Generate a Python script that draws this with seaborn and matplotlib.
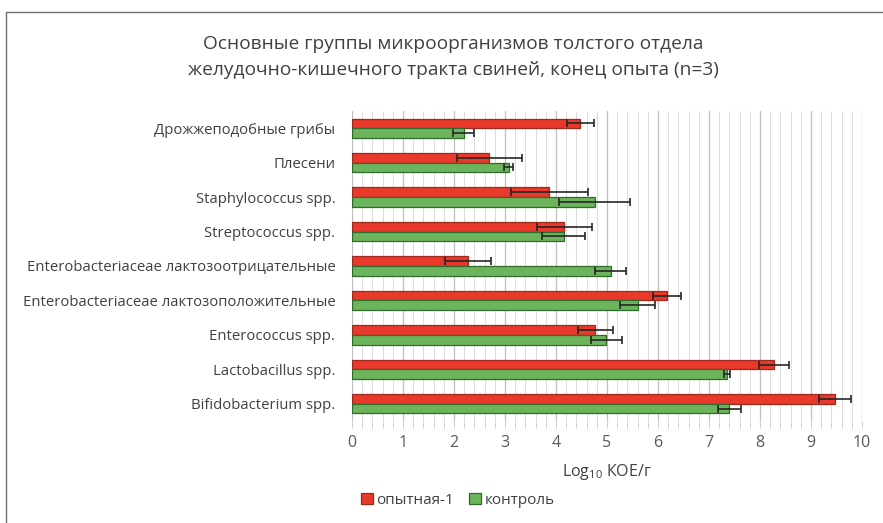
import matplotlib
matplotlib.use("Agg")
import matplotlib.pyplot as plt
import matplotlib.patches as mpatches
from matplotlib.ticker import MultipleLocator
import numpy as np
import pandas as pd
import seaborn as sns

categories = [
    "Дрожжеподобные грибы",
    "Плесени",
    "Staphylococcus spp.",
    "Streptococcus spp.",
    "Enterobacteriaceae лактозоотрицательные",
    "Enterobacteriaceae лактозоположительные",
    "Enterococcus spp.",
    "Lactobacillus spp.",
    "Bifidobacterium spp.",
]
series_names = ["опытная-1", "контроль"]
exp_values = [4.48, 2.69, 3.87, 4.16, 2.27, 6.18, 4.77, 8.27, 9.47]
exp_errors = [0.26, 0.64, 0.76, 0.54, 0.45, 0.27, 0.34, 0.29, 0.32]
ctl_values = [2.19, 3.07, 4.76, 4.15, 5.07, 5.60, 4.99, 7.36, 7.40]
ctl_errors = [0.20, 0.09, 0.70, 0.42, 0.31, 0.35, 0.30, 0.06, 0.23]
x_ticks = [0, 1, 2, 3, 4, 5, 6, 7, 8, 9, 10]
title_text = "Основные группы микроорганизмов толстого отдела\nжелудочно-кишечного тракта свиней, конец опыта (n=3)"
xlabel_text = r"Log$_{\mathregular{10}}$ КОЕ/г"

red = "#E8392A"
green = "#6DB55C"
red_edge = "#9E2A1E"
green_edge = "#2F6B2A"

sns.set_theme(style="white")
plt.rcParams["font.family"] = ["Open Sans", "DejaVu Sans"]
plt.rcParams["mathtext.fontset"] = "custom"
plt.rcParams["mathtext.rm"] = "Open Sans"

df = pd.DataFrame({
    "cat": categories * 2,
    "grp": [series_names[0]] * len(categories) + [series_names[1]] * len(categories),
    "val": exp_values + ctl_values,
    "err": exp_errors + ctl_errors,
})

fig = plt.figure(figsize=(8.83, 5.23), dpi=100)
ax = fig.add_axes([352 / 883, 1 - 421 / 523, 510 / 883, 310 / 523])

sns.barplot(data=df, y="cat", x="val", hue="grp", order=categories,
            hue_order=series_names, palette=[red, green], orient="h",
            width=0.56, errorbar=None, ax=ax, legend=False, saturation=1,
            edgecolor="none", linewidth=0)

# style bars & add error bars based on library-drawn patches
edges = [red_edge, green_edge]
errs = [exp_errors, ctl_errors]
bar_containers = list(ax.containers)
for h, cont in enumerate(bar_containers):
    ys, xs = [], []
    for bar in cont:
        bar.set_edgecolor(edges[h])
        bar.set_linewidth(0.9)
        ys.append(bar.get_y() + bar.get_height() / 2)
        xs.append(bar.get_width())
    ax.errorbar(xs, ys, xerr=errs[h], fmt="none", ecolor="#262626",
                elinewidth=1.2, capsize=3.2, capthick=1.2, zorder=5)

ax.set_xlim(0, 10)
ax.set_ylim(len(categories) - 0.5, -0.5)
ax.xaxis.set_major_locator(MultipleLocator(1))
ax.xaxis.set_minor_locator(MultipleLocator(0.2))
ax.set_xticks(x_ticks)
ax.set_xticklabels([str(t) for t in x_ticks])
ax.grid(which="major", axis="x", color="#BFBFBF", linewidth=0.9)
ax.grid(which="minor", axis="x", color="#DCDCDC", linewidth=0.7)
ax.grid(which="major", axis="y", visible=False)
ax.set_axisbelow(True)
for s in ax.spines.values():
    s.set_visible(False)
ax.tick_params(axis="x", which="both", bottom=True, length=5, color="#D0D0D0",
               width=0.7, labelsize=11.5, labelcolor="#595959", pad=5)
ax.tick_params(axis="y", which="both", left=False, labelsize=10.7,
               labelcolor="#404040", pad=6)
ax.set_ylabel("")
ax.set_xlabel(xlabel_text, fontsize=11.5, color="#404040", labelpad=8)

fig.text(453 / 883, 1 - 57 / 523, title_text, ha="center", va="center",
         fontsize=13.8, color="#404040", linespacing=1.6)

handles = [mpatches.Patch(facecolor=red, edgecolor=red_edge, linewidth=0.9),
           mpatches.Patch(facecolor=green, edgecolor=green_edge, linewidth=0.9)]
fig.legend(handles, series_names, loc="center", bbox_to_anchor=(458 / 883, 1 - 500 / 523),
           ncol=2, frameon=False, fontsize=11, handlelength=0.75, handleheight=0.75,
           handletextpad=0.25, columnspacing=1.0, labelcolor="#404040")

# chart frame (top and left edges visible in the cropped reference)
frame = mpatches.Rectangle((6 / 883, -0.1), 1.2, 1 - 12 / 523 + 0.1,
                           transform=fig.transFigure, fill=False,
                           edgecolor="#6E6E6E", linewidth=1.0)
fig.add_artist(frame)

fig.savefig("out.png", dpi=100)
